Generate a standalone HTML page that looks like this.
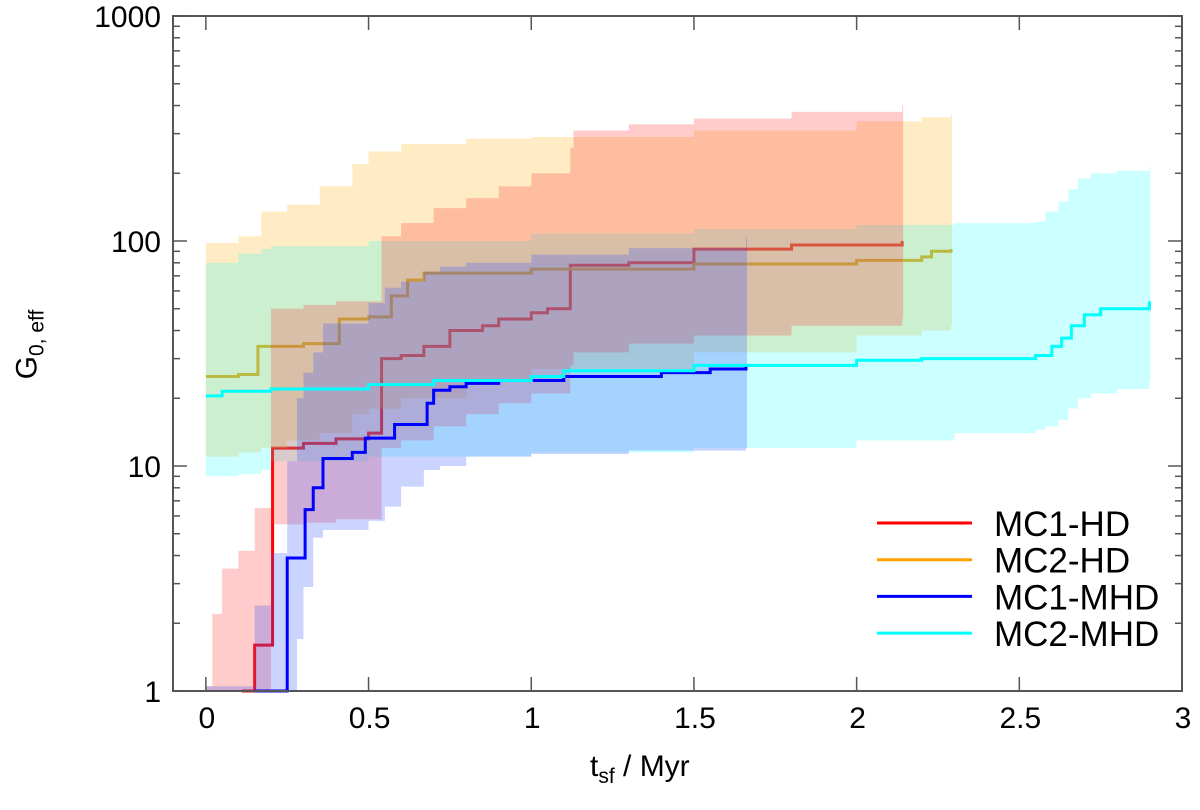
<!DOCTYPE html>
<html><head><meta charset="utf-8">
<style>
body{margin:0;background:#fff;}
svg{display:block;font-family:"Liberation Sans",sans-serif;}
</style></head>
<body>
<svg id="chart" width="1200" height="810" xmlns="http://www.w3.org/2000/svg">
<g id="bands"></g>
<g id="lines"></g>
<g id="axes"></g>
</svg>
<script>
// x: time (Myr); each band step: [t, lo, hi]; each line step: [t, value]
const xTicks = [0, 0.5, 1, 1.5, 2, 2.5, 3];
const xTickLabels = ["0", "0.5", "1", "1.5", "2", "2.5", "3"];
const yTicks = [1, 10, 100, 1000];
const yTickLabels = ["1", "10", "100", "1000"];
const seriesNames = ["MC1-HD", "MC2-HD", "MC1-MHD", "MC2-MHD"];
const seriesColors = ["#ff0000", "#ffa000", "#0000ff", "#00ffff"];

const bandMC1HD = [[0.0,1,1.05],[0.02,1,2.2],[0.05,1,3.5],[0.1,1,4.2],[0.15,1,6.5],[0.2,5.5,50],[0.3,5.6,52],[0.4,5.8,54],[0.54,12,105],[0.6,13,120],[0.7,15,140],[0.8,17,155],[0.9,19,175],[1.0,21,200],[1.12,28,260],[1.13,32,310],[1.3,35,330],[1.5,38,350],[1.8,42,375],[2.14,45,400]];
const bandMC2HD = [[0.0,11,98],[0.1,11.5,105],[0.17,12,135],[0.25,13,145],[0.35,14,175],[0.45,17,220],[0.5,18,250],[0.6,20,270],[0.8,24,285],[1.0,27,290],[1.5,32,310],[2.0,38,340],[2.2,40,355],[2.29,42,365]];
const bandMC1MHD = [[0.0,1,1.05],[0.15,1,2.4],[0.2,1,4.1],[0.25,1,10.5],[0.28,1.7,20],[0.3,2.9,26],[0.33,4.8,32],[0.36,5.2,43],[0.5,5.7,53],[0.55,6.6,62],[0.6,8.1,66],[0.67,9.6,73],[0.72,10,77],[0.8,11,80],[1.0,11.3,87],[1.3,11.7,93],[1.66,12,103]];
const bandMC2MHD = [[0.0,9,80],[0.1,9.2,88],[0.17,9.6,92],[0.2,10.5,95],[0.5,11,100],[1.0,11.5,108],[1.5,12,113],[2.0,13,118],[2.3,14,120],[2.55,14.5,122],[2.58,15,135],[2.62,16,150],[2.65,18,170],[2.68,20,190],[2.72,21,200],[2.8,22,205],[2.9,24,215]];

const lineMC1HD = [[0.11,1],[0.15,1.6],[0.205,12],[0.3,12.6],[0.4,13.2],[0.5,14],[0.54,30],[0.6,31],[0.67,34],[0.75,40],[0.85,42],[0.9,45],[1.0,48],[1.05,50],[1.12,78],[1.3,80],[1.5,92],[1.8,96],[2.14,100]];
const lineMC2HD = [[0.0,25],[0.1,25.5],[0.16,34],[0.3,35],[0.41,45],[0.5,46],[0.57,57],[0.62,67],[0.67,72],[1.0,75],[1.5,79],[2.0,82],[2.2,85],[2.23,90],[2.29,92]];
const lineMC1MHD = [[0.15,1],[0.25,3.9],[0.305,6.4],[0.33,8],[0.36,10.8],[0.45,11.5],[0.49,13.3],[0.58,15.3],[0.68,19],[0.7,21.7],[0.75,22.5],[0.8,23.3],[0.9,24],[1.1,25],[1.4,26],[1.55,27],[1.66,28]];
const lineMC2MHD = [[0.0,20.5],[0.05,21.5],[0.2,22],[0.5,23],[0.7,24],[1.0,25],[1.1,26.5],[1.5,28],[2.0,29.5],[2.2,30],[2.55,31],[2.6,34],[2.63,37],[2.66,42],[2.7,47],[2.75,50],[2.9,54]];

const X0=173, X1=1182, Y0=691, Y1=16;
const xMin=-0.101, xMax=3.0;
function xs(t){return X0+(t-xMin)/(xMax-xMin)*(X1-X0);}
function ys(v){return Y0-(Math.log10(v)-0)/3*(Y0-Y1);}
const NS="http://www.w3.org/2000/svg";
function mk(tag,attrs,parent){const e=document.createElementNS(NS,tag);for(const k in attrs)e.setAttribute(k,attrs[k]);parent.appendChild(e);return e;}

function stepLine(data){let d="";for(let i=0;i<data.length;i++){const x=xs(data[i][0]),y=ys(data[i][1]);if(i===0)d+="M"+x+","+y;else d+="H"+x+"V"+y;}return d;}
function stepBand(data){let up="",lo=[];for(let i=0;i<data.length;i++){const x=xs(data[i][0]);const xn=i<data.length-1?xs(data[i+1][0]):x+1;up+=(i===0?"M":"L")+x+","+ys(data[i][2])+"L"+xn+","+ys(data[i][2]);lo.push([x,ys(data[i][1])],[xn,ys(data[i][1])]);}
lo.reverse();for(const p of lo)up+="L"+p[0]+","+p[1];return up+"Z";}

const gB=document.getElementById('bands'), gL=document.getElementById('lines'), gA=document.getElementById('axes');
const svg=document.getElementById('chart');
const lr=mk('path',{d:stepLine(lineMC1HD),fill:'none',stroke:seriesColors[0],'stroke-width':3},svg);


const lo=mk('path',{d:stepLine(lineMC2HD),fill:'none',stroke:'#e0a000','stroke-width':3},svg);


svg.appendChild(gB);
const bandDefs=[[bandMC2HD,'#ffc040',0.3,'band-mc2-hd'],[bandMC2MHD,'#00ffff',0.2,'band-mc2-mhd'],[bandMC1HD,'#ff3030',0.25,'band-mc1-hd'],[bandMC1MHD,'#3050ff',0.25,'band-mc1-mhd']];
for(const b of bandDefs){const p=mk('path',{d:stepBand(b[0]),fill:b[1],'fill-opacity':b[2]},gB);

}
svg.appendChild(gL);
const lb=mk('path',{d:stepLine(lineMC1MHD),fill:'none',stroke:seriesColors[2],'stroke-width':3},gL);


const lc=mk('path',{d:stepLine(lineMC2MHD),fill:'none',stroke:seriesColors[3],'stroke-width':3},gL);


svg.appendChild(gA);
const fr=mk('rect',{x:X0,y:Y1,width:X1-X0,height:Y0-Y1,fill:'none',stroke:'#555','stroke-width':2},gA);


xTicks.forEach((t,i)=>{const x=xs(t);
mk('line',{x1:x,y1:Y0,x2:x,y2:Y0-14,stroke:'#555','stroke-width':1.5},gA);
mk('line',{x1:x,y1:Y1,x2:x,y2:Y1+14,stroke:'#555','stroke-width':1.5},gA);
const tx=mk('text',{x:x+1,y:Y0+37,'font-size':30,'text-anchor':'middle',fill:'#000'},gA);tx.textContent=xTickLabels[i];

});
yTicks.forEach((v,i)=>{const y=ys(v);
mk('line',{x1:X0,y1:y,x2:X0+14,y2:y,stroke:'#555','stroke-width':1.5},gA);
mk('line',{x1:X1,y1:y,x2:X1-14,y2:y,stroke:'#555','stroke-width':1.5},gA);
if(i<yTicks.length-1){for(let m=2;m<10;m++){const ym=ys(v*m);
mk('line',{x1:X0,y1:ym,x2:X0+7,y2:ym,stroke:'#555','stroke-width':1.5},gA);
mk('line',{x1:X1,y1:ym,x2:X1-7,y2:ym,stroke:'#555','stroke-width':1.5},gA);}}
const tx=mk('text',{x:X0-12,y:y+11,'font-size':30,'text-anchor':'end',fill:'#000'},gA);tx.textContent=yTickLabels[i];

});
seriesNames.forEach((n,i)=>{const y=523+i*36.7;
const ln=mk('line',{x1:877,y1:y,x2:972,y2:y,stroke:seriesColors[i],'stroke-width':3},gA);


const tx=mk('text',{x:994,y:y+13,'font-size':35,fill:'#000'},gA);tx.textContent=n;

});
</script>
<div style="position:absolute;left:0;top:0;width:1200px;height:810px;pointer-events:none;">
<div style="position:absolute;left:590px;top:750px;font:30px 'Liberation Sans',sans-serif;">t<sub style="font-size:21px">sf</sub> / Myr</div>
<div style="position:absolute;left:-45px;top:325px;width:150px;text-align:center;transform:rotate(-90deg);font:30px 'Liberation Sans',sans-serif;">G<sub style="font-size:21px">0, eff</sub></div>
</div>
</body></html>
